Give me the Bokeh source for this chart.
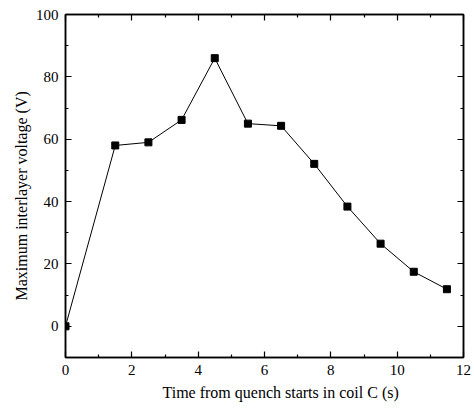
from bokeh.plotting import figure
from bokeh.models import LinearAxis, Range1d, FixedTicker, Title
from bokeh.embed import file_html
from bokeh.resources import INLINE

time_s = [0, 1.5, 2.5, 3.5, 4.5, 5.5, 6.5, 7.5, 8.5, 9.5, 10.5, 11.5]
voltage = [0, 58.0, 59.0, 66.2, 86.0, 65.0, 64.3, 52.1, 38.4, 26.5, 17.5, 11.9]

x_major = [0, 2, 4, 6, 8, 10, 12]
x_minor = [1, 3, 5, 7, 9, 11]
y_major = [0, 20, 40, 60, 80, 100]
y_minor = [-10, 10, 30, 50, 70, 90]

x_title = "Time from quench starts in coil C (s)"
y_title = "Maximum interlayer voltage (V)"

FONT = "Liberation Serif"

p = figure(width=474, height=411, output_backend="svg", toolbar_location=None,
           x_range=Range1d(0, 12), y_range=Range1d(-10, 100),
           min_border_left=65, min_border_right=11, min_border_top=14, min_border_bottom=54,
           x_axis_location=None, y_axis_location=None)
p.grid.visible = False
p.outline_line_color = "black"
p.outline_line_width = 1.5
p.background_fill_color = "white"
p.border_fill_color = "white"

def style(ax, major, minor, show_labels):
    ax.ticker = FixedTicker(ticks=major, minor_ticks=minor)
    ax.axis_line_color = "black"
    ax.axis_line_width = 1.5
    ax.major_tick_in = 6
    ax.major_tick_out = 0
    ax.minor_tick_in = 3
    ax.minor_tick_out = 0
    ax.major_tick_line_color = "black"
    ax.minor_tick_line_color = "black"
    ax.major_tick_line_width = 1.2
    ax.minor_tick_line_width = 1.2
    ax.major_label_text_font = FONT
    ax.major_label_text_font_size = "15px"
    ax.major_label_text_color = "black"
    ax.major_label_standoff = 7
    if not show_labels:
        ax.major_label_overrides = {t: "" for t in major}
        ax.major_label_standoff = 0

xb = LinearAxis()
style(xb, x_major, x_minor, True)
p.add_layout(xb, "below")

yl = LinearAxis()
style(yl, y_major, y_minor, True)
p.add_layout(yl, "left")

xt = LinearAxis()
style(xt, x_major, x_minor, False)
p.add_layout(xt, "above")

yr = LinearAxis()
style(yr, y_major, y_minor, False)
p.add_layout(yr, "right")

xlab = Title(text=x_title, align="left", offset=97, text_font=FONT,
             text_font_size="16px", text_font_style="normal", text_color="black", standoff=9)
p.add_layout(xlab, "below")

ylab = Title(text=y_title, align="left", offset=57, text_font=FONT,
             text_font_size="16px", text_font_style="normal", text_color="black", standoff=6)
p.add_layout(ylab, "left")

p.line(time_s, voltage, line_color="black", line_width=1)
p.scatter(time_s, voltage, marker="square", size=7, fill_color="black", line_color="black")

open("out.html", "w").write(file_html(p, INLINE))
